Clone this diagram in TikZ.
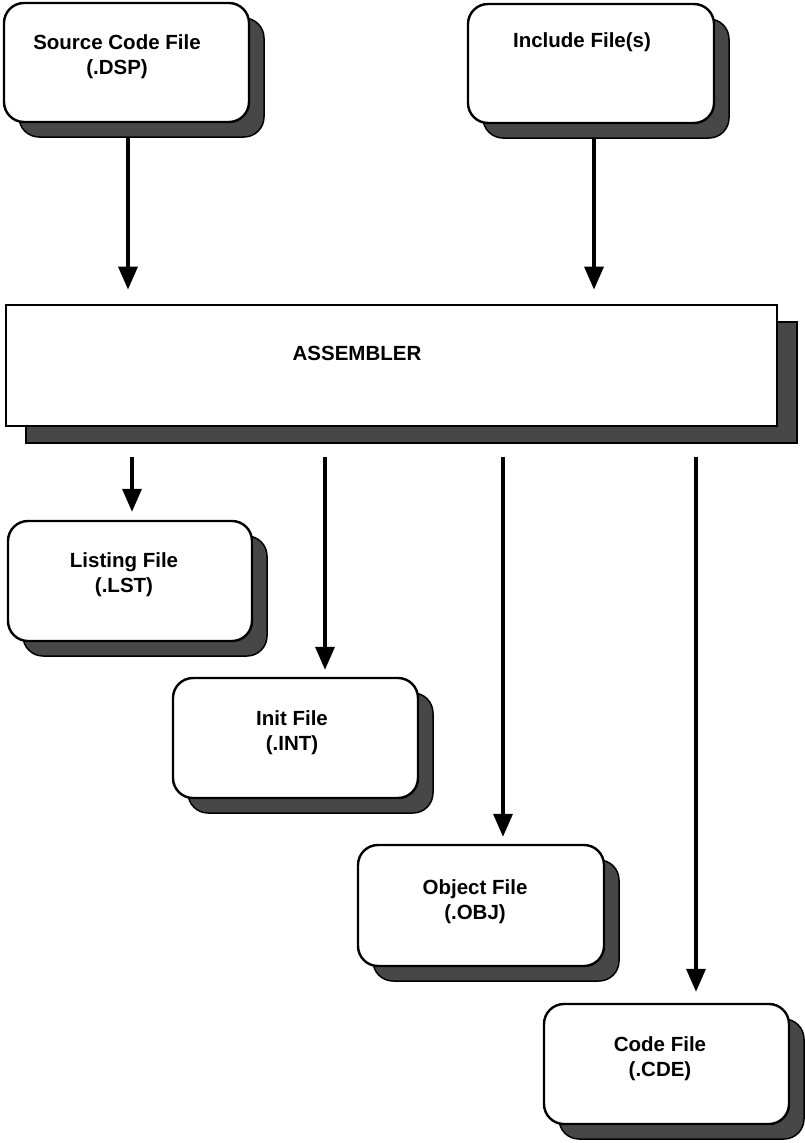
\documentclass[tikz,border=0pt]{standalone}
\usepackage{fontspec}
\setmainfont{Liberation Sans}
\usetikzlibrary{arrows.meta,shadows}
\begin{document}
\begin{tikzpicture}[x=1pt,y=-1pt,
  boxshadow/.style={general shadow={shadow xshift=15pt,shadow yshift=-15pt,fill=black!72,draw=black,line width=1.5pt}},
  filebox/.style={draw=black,line width=2.4pt,fill=white,rounded corners=20pt,inner sep=0pt,
                  minimum width=245pt,minimum height=120pt,boxshadow},
  asmbox/.style={draw=black,line width=2.8pt,fill=white,inner sep=0pt,
                 minimum width=771pt,minimum height=121pt,
                 general shadow={shadow xshift=20pt,shadow yshift=-17pt,fill=black!72,draw=black,line width=1.5pt}},
  lbl/.style={font={\fontsize{20.5}{25}\selectfont\bfseries},align=center,inner sep=0pt,anchor=north},
  arr/.style={line width=3.5pt,-{Triangle[width=19pt,length=23pt]}}
]
\useasboundingbox (0,0) rectangle (805,1143);

% boxes
\node[filebox,minimum width=245pt,minimum height=119pt] (src) at (126.5,62.5) {};
\node[filebox,minimum width=246pt,minimum height=119pt] (inc) at (591,63.5) {};
\node[asmbox] (asm) at (391.5,365.5) {};
\node[filebox,minimum width=244pt] (lst) at (130,581) {};
\node[filebox] (int) at (295.5,738) {};
\node[filebox,minimum width=246pt,minimum height=121pt] (obj) at (481,905.5) {};
\node[filebox] (cde) at (666.5,1064) {};

% labels
\node[lbl] (srct) at (117,34) {Source Code File\\(.DSP)};
\node[lbl] (inct) at (582,32) {Include File(s)};
\node[lbl] (asmt) at (357,346) {ASSEMBLER};
\node[lbl] (lstt) at (124,552) {Listing File\\(.LST)};
\node[lbl] (intt) at (292,710) {Init File\\(.INT)};
\node[lbl] (objt) at (475,879) {Object File\\(.OBJ)};
\node[lbl] (cdet) at (660,1036) {Code File\\(.CDE)};

% connectors
\draw[arr,shorten <=15pt,shorten >=14pt] (src.south -| 128,0) -- (asm.north -| 128,0);
\draw[arr,shorten <=15pt,shorten >=14pt] (inc.south -| 594,0) -- (asm.north -| 594,0);
\draw[arr,shorten <=30pt,shorten >=8pt] (asm.south -| 132,0) -- (lst.north -| 132,0);
\draw[arr,shorten <=30pt,shorten >=7pt] (asm.south -| 325,0) -- (int.north -| 325,0);
\draw[arr,shorten <=30pt,shorten >=7pt] (asm.south -| 503,0) -- (obj.north -| 503,0);
\draw[arr,shorten <=30pt,shorten >=11pt] (asm.south -| 696,0) -- (cde.north -| 696,0);
\end{tikzpicture}
\end{document}
